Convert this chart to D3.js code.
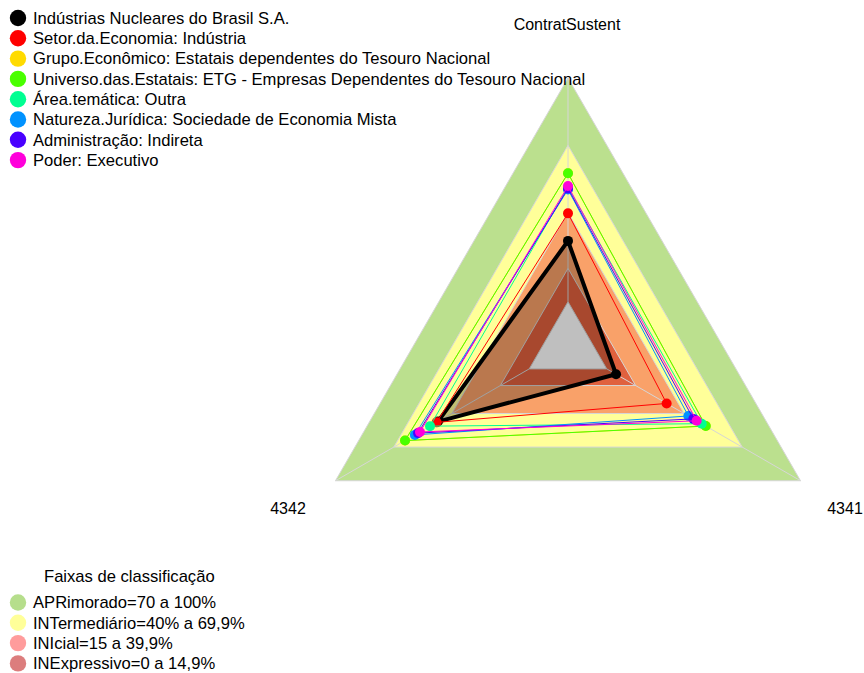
<!DOCTYPE html>
<html>
<head>
<meta charset="utf-8">
<script src="https://cdn.jsdelivr.net/npm/d3@7"></script>
<style>
  html, body { margin: 0; padding: 0; background: #fff; }
  svg { display: block; font-family: "Liberation Sans", Arial, sans-serif; }
</style>
</head>
<body>
<svg id="chart" width="864" height="673"></svg>
<script>
// Radar axes, clockwise from the top
const axes = ["ContratSustent", "4342", "4341"];

// Series names and colours (legend order = drawing order)
const seriesNames = [
  "Indústrias Nucleares do Brasil S.A.",
  "Setor.da.Economia: Indústria",
  "Grupo.Econômico: Estatais dependentes do Tesouro Nacional",
  "Universo.das.Estatais: ETG - Empresas Dependentes do Tesouro Nacional",
  "Área.temática: Outra",
  "Natureza.Jurídica: Sociedade de Economia Mista",
  "Administração: Indireta",
  "Poder: Executivo"
];
const seriesColors = ["#000000", "#FF0000", "#FFDB00", "#49FF00", "#00FF92", "#0092FF", "#4900FF", "#FF00DB"];

// Values per series, in axis order [ContratSustent, 4342, 4341]
const valNuclebras   = [27.2, 47.1, 4.8];
const valIndustria   = [39.5, 47.8, 30.9];
const valGrupoDep    = [57.4, 64.1, 51.1];
const valUniversoETG = [57.4, 64.1, 51.1];
const valOutra       = [51.2, 51.2, 49.0];
const valSEM         = [50.2, 59.0, 42.1];
const valIndireta    = [50.6, 57.4, 44.7];
const valExecutivo   = [51.7, 56.4, 46.4];
const seriesValues = [valNuclebras, valIndustria, valGrupoDep, valUniversoETG,
                      valOutra, valSEM, valIndireta, valExecutivo];

// Classification bands (upper limit of each band)
const bandNames  = ["APRimorado=70 a 100%", "INTermediário=40% a 69,9%", "INIcial=15 a 39,9%", "INExpressivo=0 a 14,9%"];
const bandLimits = [100, 69.9, 39.9, 14.9];
const bandFills  = ["#bbe08e", "#ffff99", "#f9a169", "#e0613e"];
const bandLegend = ["#b6de8c", "#ffff99", "#ff9c9c", "#dc7d7d"];
const legendTitle = "Faixas de classificação";

const svg = d3.select("#chart");
const cx = 568, cy = 346.5, R = 268.5;

// radial scale: the minimum sits on an inner ring at 1/6 of the radius
const r = d3.scaleLinear().domain([0, 100]).range([R / 6, R]);
const angle = d3.scalePoint().domain(axes).range([0, 240]);
function pt(axis, v) {
  const a = (-90 - angle(axis)) * Math.PI / 180;
  return [cx + r(v) * Math.cos(a), cy + r(v) * Math.sin(a)];
}
const line = d3.line().curve(d3.curveLinearClosed);
const ring = v => line(axes.map(a => pt(a, v)));

const g = svg.append("g");

// bands, largest first
g.selectAll("path.band").data(bandLimits).join("path")
  .attr("class", "band")
  .attr("d", d => ring(d))
  .attr("fill", (d, i) => bandFills[i])
  .attr("stroke", "#d6d6d6").attr("stroke-width", 1);

// empty core
g.append("path").attr("d", ring(0))
  .attr("fill", "#ffffff").attr("stroke", "#d6d6d6").attr("stroke-width", 1);

// spokes
g.selectAll("line.spoke").data(axes).join("line")
  .attr("class", "spoke")
  .attr("x1", a => pt(a, 0)[0]).attr("y1", a => pt(a, 0)[1])
  .attr("x2", a => pt(a, 100)[0]).attr("y2", a => pt(a, 100)[1])
  .attr("stroke", "#d6d6d6").attr("stroke-width", 1);

// series polygons and points
seriesValues.forEach((vals, i) => {
  const pts = axes.map((a, k) => pt(a, vals[k]));
  const first = i === 0;
  g.append("path")
    .attr("d", line(pts))
    .attr("fill", first ? "rgba(0,0,0,0.25)" : "none")
    .attr("stroke", seriesColors[i])
    .attr("stroke-width", first ? 4 : 1)
    .attr("stroke-linejoin", "round");
  g.selectAll(null).data(pts).join("circle")
    .attr("cx", d => d[0]).attr("cy", d => d[1])
    .attr("r", 5)
    .attr("fill", seriesColors[i]);
});

// axis labels
const labelPos = {"ContratSustent": [567, 30, "middle"], "4342": [288, 514, "middle"], "4341": [845, 514, "middle"]};
axes.forEach(a => {
  svg.append("text")
    .attr("x", labelPos[a][0]).attr("y", labelPos[a][1])
    .attr("text-anchor", labelPos[a][2])
    .attr("font-size", 16).attr("fill", "#000")
    .text(a);
});

// series legend
const leg = svg.append("g");
seriesNames.forEach((n, i) => {
  const y = 18 + i * 20.3;
  leg.append("circle").attr("cx", 18).attr("cy", y).attr("r", 8.2).attr("fill", seriesColors[i]);
  leg.append("text").attr("x", 33).attr("y", y + 5.7).attr("font-size", 16.6).attr("fill", "#000").text(n);
});

// band legend
const leg2 = svg.append("g");
leg2.append("text").attr("x", 44).attr("y", 582).attr("font-size", 16.6).attr("fill", "#000").text(legendTitle);
bandNames.forEach((n, i) => {
  const y = 602.5 + i * 20.3;
  leg2.append("circle").attr("cx", 18).attr("cy", y).attr("r", 8.2).attr("fill", bandLegend[i]);
  leg2.append("text").attr("x", 33).attr("y", y + 5.7).attr("font-size", 16.6).attr("fill", "#000").text(n);
});
</script>
</body>
</html>
